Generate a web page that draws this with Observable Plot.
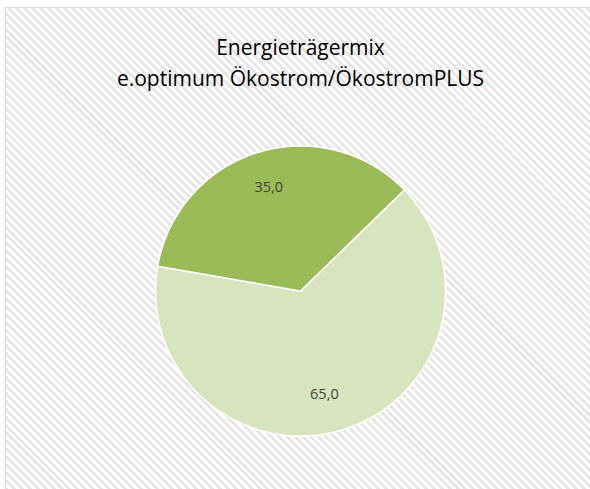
<!DOCTYPE html>
<html>
<head>
<meta charset="utf-8">
<script src="https://cdn.jsdelivr.net/npm/d3@7"></script>
<script src="https://cdn.jsdelivr.net/npm/@observablehq/plot@0.6"></script>
<style>
  html, body { margin: 0; padding: 0; background: #fff; overflow: hidden; }
  #wrap { position: relative; width: 590px; height: 489px; }
  #bg { position: absolute; left: 5px; top: 7px; width: 620px; height: 520px;
        border: 1px solid #d9d9d9; box-sizing: border-box;
        background: repeating-linear-gradient(45deg, #ffffff 0px, #ffffff 2.8px, #e6e6e6 2.8px, #e6e6e6 5.6px); }
  #chart { position: absolute; left: 0; top: 0; }
  #chart svg { background: transparent !important; }
</style>
</head>
<body>
<div id="wrap"><div id="bg"></div><div id="chart"></div></div>
<script>
const title = "Energieträgermix";
const subtitle = "e.optimum Ökostrom/ÖkostromPLUS";
const categories = ["Ökostrom", "ÖkostromPLUS"];
const values = [65.0, 35.0];
const valueLabels = ["65,0", "35,0"];
const colors = ["#D7E4BD", "#9BBB59"];
const firstSliceAngle = 45.8; // degrees

const arcs = d3.pie().sort(null).startAngle(firstSliceAngle * Math.PI / 180)
  .endAngle((firstSliceAngle + 360) * Math.PI / 180)(values);

const slices = arcs.map((a, i) => {
  const ring = [[0, 0]];
  const n = 180;
  for (let k = 0; k <= n; k++) {
    const t = a.startAngle + (a.endAngle - a.startAngle) * k / n;
    ring.push([Math.sin(t), Math.cos(t)]);
  }
  ring.push([0, 0]);
  return {type: "Feature", properties: {category: categories[i], color: colors[i]},
          geometry: {type: "Polygon", coordinates: [ring]}};
});

const labels = arcs.map((a, i) => {
  const m = (a.startAngle + a.endAngle) / 2;
  const r = i === 0 ? 0.76 : 0.74;
  const ry = i === 0 ? 0.745 : 0.745;
  return {x: r * Math.sin(m) - (i === 0 ? 0.06 : 0), y: ry * Math.cos(m), text: valueLabels[i]};
});

const plot = Plot.plot({
  width: 590,
  height: 489,
  marginLeft: 155,
  marginRight: 145,
  marginTop: 145,
  marginBottom: 53,
  style: {background: "transparent", fontFamily: "'Open Sans', sans-serif"},
  projection: {type: "reflect-y", domain: {type: "MultiPoint", coordinates: [[-1, -1], [1, 1]]}},
  marks: [
    Plot.geo(slices, {fill: d => d.properties.color, stroke: "#fff", strokeWidth: 1.5}),
    Plot.text(labels, {x: "x", y: "y", text: "text", fontSize: 14.5, fill: "#404040"}),
    Plot.text([title + "\n" + subtitle], {frameAnchor: "top", lineAnchor: "middle", dy: -85, fontSize: 21, lineHeight: 1.5, fill: "#000"})
  ]
});
document.getElementById("chart").appendChild(plot);
</script>
</body>
</html>
